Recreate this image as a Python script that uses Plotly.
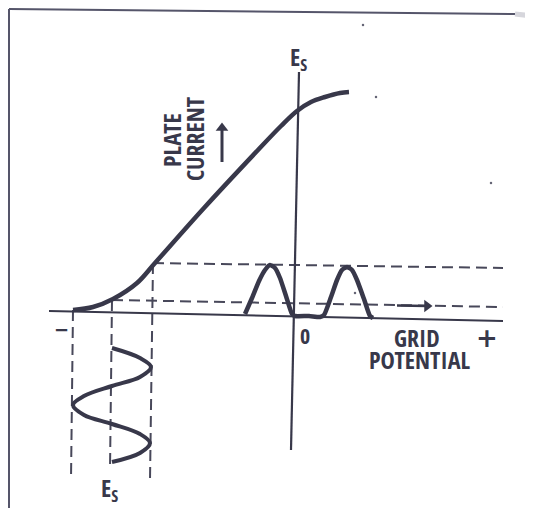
import plotly.graph_objects as go

INK = "#38384a"
DASH_INK = "#48485a"
FONT = "Open Sans Condensed, DejaVu Sans Condensed, sans-serif"
SYM_FONT = "DejaVu Sans, sans-serif"

# Plate-current characteristic (grid potential, plate current) in drawing units
curve_x = [-222, -202, -182, -158, -140, -91, -37, -14, 2, 16, 30, 45, 54]
curve_y = [2, 5, 13, 29, 49, 104, 162, 186, 201, 210, 215, 219, 220]

# Input grid signal (drawn downward in time below the axis)
signal_x = [-183, -155, -144, -155, -183, -211, -222, -211, -183, -155, -145, -155, -183]
signal_y = [-36, -46, -55, -65, -74, -84, -93, -103, -112, -122, -131, -141, -150]

# Output plate-current pulses
pulse_x = [-50, -43, -36, -30, -25, -20, -15, -9, -3, 0, 14, 25, 29, 36, 42, 47, 52, 57, 62, 69, 75, 78]
pulse_y = [-2, 14, 31, 42, 47, 44, 34, 16, -2, -4, -4, -5, -3, 15, 32, 42, 45, 42, 32, 13, -4, -6]

# Axes / frame
baseline_x = [-246, 208]
baseline_y = [1, -9]
vaxis_x = [4, -4]
vaxis_y = [240, -138]
frame_x = [-286, -286, None, -286, 220]
frame_y = [-200, 303, None, 303, 298]
smudge_x = [220, 238]
smudge_y = [298, 296]

# Projection lines
hdash_x = [-142, 208, None, -183, 208]
hdash_y = [49, 44, None, 12, 5]
vdash_x = [-222, -224, None, -183, -185, None, -142, -145]
vdash_y = [2, -168, None, 12, -158, None, 49, -168]

# Arrows: "plate current" arrow and flow arrow on the dashed line
up_arrow_x = [-73, -73]
up_arrow_y = [150, 184]
right_arrow_x = [102, 132]
right_arrow_y = [6.5, 6]

specks_x = [68, 81, 196, 60]
specks_y = [287, 215, 129, 19]

fig = go.Figure()

fig.add_trace(go.Scatter(x=frame_x, y=frame_y, mode="lines",
                         line=dict(color="#55556a", width=2)))
fig.add_trace(go.Scatter(x=smudge_x, y=smudge_y, mode="lines",
                         line=dict(color="#d6d6dc", width=5)))
fig.add_trace(go.Scatter(x=hdash_x, y=hdash_y, mode="lines",
                         line=dict(color=DASH_INK, width=2, dash="11px,6px")))
fig.add_trace(go.Scatter(x=vdash_x, y=vdash_y, mode="lines",
                         line=dict(color=DASH_INK, width=2, dash="11px,6px")))
fig.add_trace(go.Scatter(x=baseline_x, y=baseline_y, mode="lines",
                         line=dict(color=INK, width=2)))
fig.add_trace(go.Scatter(x=vaxis_x, y=vaxis_y, mode="lines",
                         line=dict(color=INK, width=2.2)))
fig.add_trace(go.Scatter(x=curve_x, y=curve_y, mode="lines",
                         line=dict(color=INK, width=4.5, shape="spline", smoothing=1.0)))
fig.add_trace(go.Scatter(x=signal_x, y=signal_y, mode="lines",
                         line=dict(color=INK, width=4, shape="spline", smoothing=1.0)))
fig.add_trace(go.Scatter(x=pulse_x, y=pulse_y, mode="lines",
                         line=dict(color=INK, width=4.5, shape="spline", smoothing=0.5)))
fig.add_trace(go.Scatter(x=specks_x, y=specks_y, mode="markers",
                         marker=dict(color="#666676", size=2.5)))
fig.add_trace(go.Scatter(x=up_arrow_x, y=up_arrow_y, mode="lines",
                         line=dict(color=INK, width=3)))
fig.add_trace(go.Scatter(x=up_arrow_x[-1:], y=up_arrow_y[-1:], mode="markers",
                         marker=dict(symbol="triangle-up", size=11, color=INK)))
fig.add_trace(go.Scatter(x=right_arrow_x, y=right_arrow_y, mode="lines",
                         line=dict(color=INK, width=2.5)))
fig.add_trace(go.Scatter(x=right_arrow_x[-1:], y=right_arrow_y[-1:], mode="markers",
                         marker=dict(symbol="triangle-right", size=11, color=INK)))

def label(text, x, y, size, angle=0, family=FONT):
    fig.add_annotation(x=x, y=y, text=text, showarrow=False, textangle=angle,
                       xanchor="center", yanchor="middle",
                       font=dict(family=family, size=size, color=INK, weight=700))

label("E<sub>S</sub>", 3, 254, 24)
label("E<sub>S</sub>", -186, -177, 24)
label("PLATE", -124, 172, 24, -90)
label("CURRENT", -101, 173, 24, -90)
label("GRID", 122, -25, 24)
label("POTENTIAL", 124, -47, 24)
label("0", 10, -23, 22)
label("+", 192, -26, 26, family=SYM_FONT)
label("\u2212", -234, -17, 18, family=SYM_FONT)

fig.update_layout(
    width=525, height=500, margin=dict(l=0, r=0, t=0, b=0),
    paper_bgcolor="white", plot_bgcolor="white", showlegend=False,
    xaxis=dict(range=[-287, 238], visible=False, fixedrange=True),
    yaxis=dict(range=[-196, 304], visible=False, fixedrange=True),
)
fig.write_html("out.html")
